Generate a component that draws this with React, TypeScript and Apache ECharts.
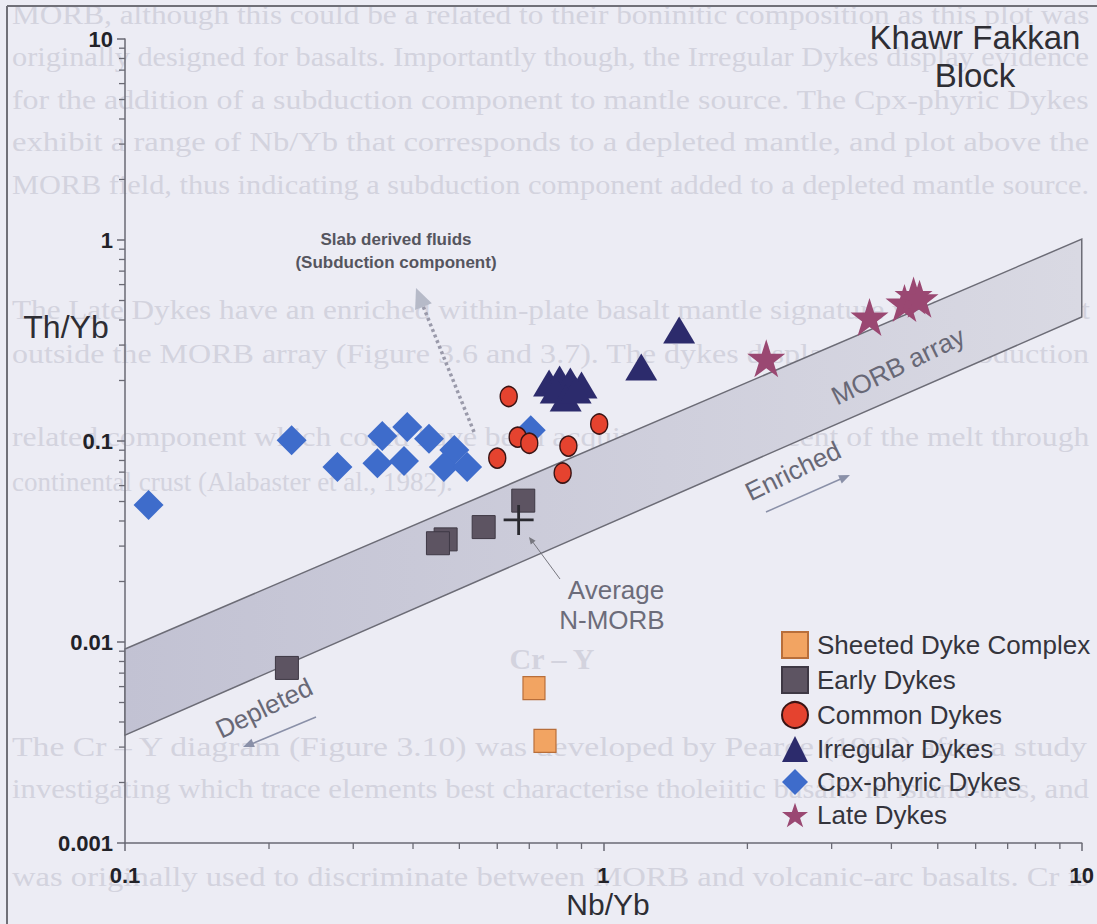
import React, { useEffect, useRef } from "react";
import * as echarts from "echarts";

// ---------- data ----------
const xTickLabels = ["0.1", "1", "10"];
const yTickLabels = ["0.001", "0.01", "0.1", "1", "10"];
const minorSteps = [2, 3, 4, 5, 6, 7, 8, 9];

const seriesNames = [
  "Sheeted Dyke Complex",
  "Early Dykes",
  "Common Dykes",
  "Irregular Dykes",
  "Cpx-phyric Dykes",
  "Late Dykes",
];

// [Nb/Yb, Th/Yb]
const sheetedDykes = [
  [0.716, 0.0059],
  [0.755, 0.00322],
];
const earlyDykes = [
  [0.68, 0.0505],
  [0.562, 0.0373],
  [0.468, 0.0324],
  [0.451, 0.031],
  [0.218, 0.00743],
];
const commonDykes = [
  [0.634, 0.1665],
  [0.662, 0.1045],
  [0.7, 0.0975],
  [0.6, 0.0822],
  [0.845, 0.0943],
  [0.98, 0.1215],
  [0.822, 0.0693],
];
const irregularDykes = [
  [0.77, 0.1945],
  [0.81, 0.2034],
  [0.853, 0.199],
  [0.9, 0.19],
  [0.795, 0.1795],
  [0.834, 0.1637],
  [0.875, 0.1795],
  [1.2, 0.2334],
  [1.44, 0.3564],
];
const cpxDykes = [
  [0.112, 0.0481],
  [0.223, 0.101],
  [0.278, 0.0743],
  [0.345, 0.106],
  [0.389, 0.1175],
  [0.432, 0.1025],
  [0.337, 0.0775],
  [0.383, 0.0795],
  [0.488, 0.0902],
  [0.464, 0.0743],
  [0.519, 0.0743],
  [0.705, 0.113],
];
const lateDykes = [
  [2.19, 0.258],
  [3.6, 0.414],
  [4.26, 0.486],
  [4.45, 0.53],
  [4.58, 0.51],
];
const averageNMORB = [[0.665, 0.0405]];
// MORB array field corners
const morbArray = [
  [0.1, 0.00923],
  [10, 1.01],
  [10, 0.414],
  [0.1, 0.00344],
];

const xDecades = [0.1, 1];
const yDecades = [0.001, 0.01, 0.1, 1];

// faint bleed-through text of the scanned page: [y, text, justified]
const bleedLines: [number, string, boolean][] = [
  [15, "MORB, although this could be a related to their boninitic composition as this plot was", true],
  [57, "originally designed for basalts. Importantly though, the Irregular Dykes display evidence", true],
  [100, "for the addition of a subduction component to mantle source. The Cpx-phyric Dykes", true],
  [142, "exhibit a range of Nb/Yb that corresponds to a depleted mantle, and plot above the", true],
  [185, "MORB field, thus indicating a subduction component added to a depleted mantle source.", true],
  [310, "The Late Dykes have an enriched within-plate basalt mantle signature which plots just", true],
  [354, "outside the MORB array (Figure 3.6 and 3.7). The dykes display a slight subduction", true],
  [437, "related component which could have been acquired during ascent of the melt through", true],
  [482, "continental crust (Alabaster et al., 1982).", false],
  [747, "The Cr \u2013 Y diagram (Figure 3.10) was developed by Pearce (1982) after a study", true],
  [789, "investigating which trace elements best characterise tholeiitic basalts in island-arcs, and", true],
  [877, "was originally used to discriminate between MORB and volcanic-arc basalts. Cr is", true],
];

const STAR =
  "path://M50,0 L61.8,35.4 L99,35.4 L69.1,57.3 L80.9,92.7 L50,70.8 L19.1,92.7 L30.9,57.3 L1,35.4 L38.2,35.4 Z";
const CROSS = "path://M0,13.6 H30 V16.4 H0 Z M13.6,0 H16.4 V30 H13.6 Z";

const FONT = '"Liberation Sans", Arial, sans-serif';
const SERIF = '"Liberation Serif", "Times New Roman", serif';

function fmt(labels: string[], first: number) {
  return (v: number) => {
    const i = Math.round(Math.log10(v)) - first;
    return labels[i] ?? String(v);
  };
}

function arrowHead(x1: number, y1: number, x2: number, y2: number, len: number, half: number, fill: string, z: number) {
  const a = Math.atan2(y2 - y1, x2 - x1);
  const bx = x2 - len * Math.cos(a);
  const by = y2 - len * Math.sin(a);
  const px = -Math.sin(a) * half;
  const py = Math.cos(a) * half;
  return {
    type: "polygon",
    z,
    silent: true,
    shape: { points: [[x2, y2], [bx + px, by + py], [bx - px, by - py]] },
    style: { fill },
  };
}

function txt(text: string, x: number, y: number, font: string, fill: string, z: number, rotationDeg = 0, align = "center", scaleX = 1) {
  return {
    type: "text",
    x,
    y,
    z,
    silent: true,
    scaleX,
    rotation: (rotationDeg * Math.PI) / 180,
    style: { text, font, fill, align, verticalAlign: "middle", textAlign: align, textVerticalAlign: "middle" },
  };
}

export default function App() {
  const ref = useRef<HTMLDivElement>(null);

  useEffect(() => {
    if (!ref.current) return;
    const chart = echarts.init(ref.current, null, { renderer: "svg", width: 1097, height: 924 });

    const yMinor: number[][] = [];
    yDecades.forEach((d) => minorSteps.forEach((k) => yMinor.push([0.1, d * k])));
    const xMinor: number[][] = [];
    xDecades.forEach((d) => minorSteps.forEach((k) => xMinor.push([d * k, 0.001])));

    const axisColor = "#6a6a74";

    const scatterBase = (name: string, data: number[][], symbol: string, size: any, color: string, border?: string, bw = 0, z = 3) => ({
      type: "scatter",
      name,
      data,
      symbol,
      symbolSize: size,
      z,
      itemStyle: { color, opacity: 1, borderColor: border || color, borderWidth: bw },
      emphasis: { disabled: true },
    });

    const bleedFont = `27px ${SERIF}`;
    const canvas = document.createElement("canvas");
    const ctx = canvas.getContext("2d");
    const bleed = bleedLines.map(([y, t, just]) => {
      let sx = 1;
      if (just && ctx) {
        ctx.font = bleedFont;
        const w = ctx.measureText(t).width;
        if (w > 0) sx = Math.max(0.9, Math.min(1.3, 1078 / w));
      }
      return txt(t, 12, y, bleedFont, "#d3d3de", 0, 0, "left", sx);
    });

    const graphics: any[] = [
      // scanned page frame
      { type: "line", z: 5, silent: true, shape: { x1: 7, y1: 6, x2: 1097, y2: 6 }, style: { stroke: "#707078", lineWidth: 2 } },
      { type: "line", z: 5, silent: true, shape: { x1: 7, y1: 6, x2: 7, y2: 924 }, style: { stroke: "#707078", lineWidth: 2 } },
      ...bleed,
      txt("Cr \u2013 Y", 552, 658, `bold 30px ${SERIF}`, "#d3d3de", 0),
      // titles
      txt("Khawr Fakkan", 975, 37, `33px ${FONT}`, "#2e2e34", 5),
      txt("Block", 975, 75, `33px ${FONT}`, "#2e2e34", 5),
      txt("Th/Yb", 66, 327, `32px ${FONT}`, "#2e2e34", 5),
      txt("Nb/Yb", 608, 904, `30px ${FONT}`, "#2e2e34", 5),
      // slab derived fluids
      txt("Slab derived fluids", 396, 239, `bold 17px ${FONT}`, "#55555e", 5),
      txt("(Subduction component)", 396, 262, `bold 17px ${FONT}`, "#55555e", 5),
      {
        type: "line",
        z: 5,
        silent: true,
        shape: { x1: 474, y1: 432, x2: 423, y2: 306 },
        style: { stroke: "#9a9aaa", lineWidth: 3.5, lineDash: [3, 3] },
      },
      arrowHead(474, 432, 416, 288, 20, 9, "#b6bac8", 5),
      // MORB array annotations
      txt("MORB array", 898, 366, `26px ${FONT}`, "#686876", 2.5, 26),
      txt("Enriched", 793, 471, `26px ${FONT}`, "#686876", 2.5, 26),
      { type: "line", z: 2.5, silent: true, shape: { x1: 766, y1: 512, x2: 843, y2: 478 }, style: { stroke: "#8a90a8", lineWidth: 1.5 } },
      arrowHead(766, 512, 850, 475, 11, 4.5, "#8a90a8", 2.5),
      txt("Depleted", 264, 708, `26px ${FONT}`, "#686876", 2.5, 26),
      { type: "line", z: 2.5, silent: true, shape: { x1: 316, y1: 717, x2: 249, y2: 745 }, style: { stroke: "#8a90a8", lineWidth: 1.5 } },
      arrowHead(316, 717, 243, 747, 11, 4.5, "#8a90a8", 2.5),
      // Average N-MORB
      txt("Average", 616, 590, `26px ${FONT}`, "#6c6c7a", 5),
      txt("N-MORB", 612, 620, `26px ${FONT}`, "#6c6c7a", 5),
      { type: "line", z: 5, silent: true, shape: { x1: 560, y1: 579, x2: 532, y2: 541 }, style: { stroke: "#77777f", lineWidth: 1 } },
      arrowHead(560, 579, 529, 537, 7, 3, "#77777f", 5),
    ];

    const option: any = {
      animation: false,
      backgroundColor: "#ececf4",
      textStyle: { fontFamily: FONT },
      grid: { left: 125, right: 12, top: 39, bottom: 81, containLabel: false },
      xAxis: {
        type: "log",
        logBase: 10,
        min: 0.1,
        max: 10,
        axisLine: { show: true, onZero: false, lineStyle: { color: axisColor, width: 1.5 } },
        axisTick: { show: true, length: 8, lineStyle: { color: axisColor, width: 1.5 } },
        splitLine: { show: false },
        axisLabel: {
          formatter: fmt(xTickLabels, -1),
          fontWeight: "bold",
          fontSize: 22,
          fontFamily: FONT,
          color: "#222228",
          margin: 21,
          showMinLabel: true,
          showMaxLabel: true,
        },
      },
      yAxis: {
        type: "log",
        logBase: 10,
        min: 0.001,
        max: 10,
        axisLine: { show: true, onZero: false, lineStyle: { color: axisColor, width: 1.5 } },
        axisTick: { show: true, length: 8, lineStyle: { color: axisColor, width: 1.5 } },
        splitLine: { show: false },
        axisLabel: {
          formatter: fmt(yTickLabels, -3),
          fontWeight: "bold",
          fontSize: 22,
          fontFamily: FONT,
          color: "#222228",
          margin: 12,
          showMinLabel: true,
          showMaxLabel: true,
        },
      },
      legend: {
        orient: "vertical",
        left: 776,
        top: 626,
        itemWidth: 26,
        itemHeight: 26,
        itemGap: 7,
        data: seriesNames,
        selectedMode: false,
        textStyle: { fontSize: 26, fontFamily: FONT, color: "#34343c", lineHeight: 26, padding: [0, 0, 0, 4] },
      },
      graphic: graphics,
      series: [
        {
          type: "custom",
          name: "MORB array",
          silent: true,
          z: 1,
          clip: false,
          data: morbArray,
          renderItem: (params: any, api: any) => {
            if (params.dataIndex !== 0) return null;
            const pts = morbArray.map((p) => api.coord(p));
            return {
              type: "polygon",
              shape: { points: pts },
              style: {
                fill: new echarts.graphic.LinearGradient(0, 0, 1, 0, [
                  { offset: 0, color: "#c2c2d3" },
                  { offset: 1, color: "#d9d9e3" },
                ]),
                stroke: "#6c6c76",
                lineWidth: 1.5,
              },
            };
          },
        },
        {
          type: "custom",
          silent: true,
          z: 1,
          clip: false,
          data: yMinor,
          renderItem: (_p: any, api: any) => {
            const c = api.coord([api.value(0), api.value(1)]);
            return { type: "line", shape: { x1: c[0] - 6, y1: c[1], x2: c[0], y2: c[1] }, style: { stroke: axisColor, lineWidth: 1.3 } };
          },
        },
        {
          type: "custom",
          silent: true,
          z: 1,
          clip: false,
          data: xMinor,
          renderItem: (_p: any, api: any) => {
            const c = api.coord([api.value(0), api.value(1)]);
            return { type: "line", shape: { x1: c[0], y1: c[1], x2: c[0], y2: c[1] + 6 }, style: { stroke: axisColor, lineWidth: 1.3 } };
          },
        },
        scatterBase("Cpx-phyric Dykes", cpxDykes, "diamond", 30, "#3e6ccb"),
        scatterBase("Sheeted Dyke Complex", sheetedDykes, "rect", [22, 23], "#f2a462", "#b86e3a", 1.2),
        scatterBase("Early Dykes", earlyDykes, "rect", 23, "#5d5462", "#3e3844", 1),
        scatterBase("Common Dykes", commonDykes, "circle", [17, 20], "#e5432f", "#3a1414", 1.5),
        scatterBase("Irregular Dykes", irregularDykes, "triangle", [32, 27], "#2c2b6c"),
        scatterBase("Late Dykes", lateDykes, STAR, 38, "#9a4872"),
        {
          type: "scatter",
          name: "Average N-MORB",
          data: averageNMORB,
          symbol: CROSS,
          symbolSize: 30,
          z: 4,
          itemStyle: { color: "#2a2a30", opacity: 1 },
          emphasis: { disabled: true },
        },
      ],
    };

    chart.setOption(option);
    return () => chart.dispose();
  }, []);

  return <div ref={ref} style={{ position: "absolute", left: 0, top: 0, width: 1097, height: 924 }} />;
}
